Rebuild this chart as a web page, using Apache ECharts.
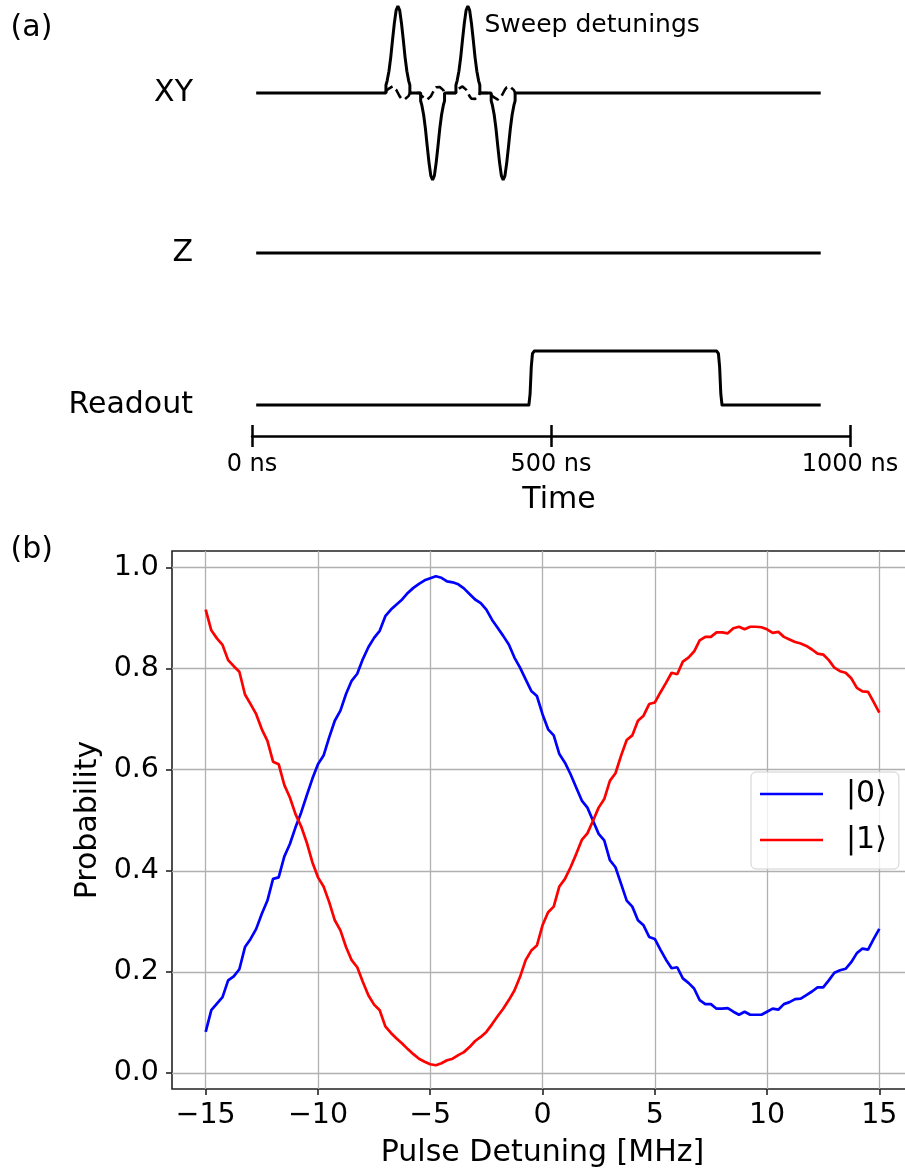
<!DOCTYPE html>
<html><head><meta charset="utf-8">
<script src="https://cdn.jsdelivr.net/npm/echarts@6/dist/echarts.min.js"></script>
<style>html,body{margin:0;padding:0;background:#fff}#c{width:905px;height:1172px}</style>
</head><body><div id="c"></div>
<script>
// ---------- Panel (b) data ----------
const detuning = [-15,-14.75,-14.5,-14.25,-14,-13.75,-13.5,-13.25,-13,-12.75,-12.5,-12.25,-12,-11.75,-11.5,-11.25,-11,-10.75,-10.5,-10.25,
 -10,-9.75,-9.5,-9.25,-9,-8.75,-8.5,-8.25,-8,-7.75,-7.5,-7.25,-7,-6.75,-6.5,-6.25,-6,-5.75,-5.5,-5.25,
 -5,-4.75,-4.5,-4.25,-4,-3.75,-3.5,-3.25,-3,-2.75,-2.5,-2.25,-2,-1.75,-1.5,-1.25,-1,-0.75,-0.5,-0.25,
 0,0.25,0.5,0.75,1,1.25,1.5,1.75,2,2.25,2.5,2.75,3,3.25,3.5,3.75,4,4.25,4.5,4.75,
 5,5.25,5.5,5.75,6,6.25,6.5,6.75,7,7.25,7.5,7.75,8,8.25,8.5,8.75,9,9.25,9.5,9.75,
 10,10.25,10.5,10.75,11,11.25,11.5,11.75,12,12.25,12.5,12.75,13,13.25,13.5,13.75,14,14.25,14.5,14.75,15];
const prob0 = [0.081,0.124,0.137,0.150,0.183,0.191,0.205,0.249,0.265,0.285,0.315,0.341,0.384,0.387,0.428,0.453,0.486,0.515,0.549,0.582,
 0.611,0.628,0.664,0.697,0.717,0.750,0.776,0.790,0.819,0.843,0.861,0.875,0.904,0.917,0.927,0.937,0.950,0.960,0.968,0.975,
 0.979,0.983,0.980,0.973,0.971,0.967,0.959,0.948,0.937,0.930,0.917,0.897,0.881,0.865,0.848,0.822,0.802,0.779,0.756,0.746,
 0.710,0.680,0.668,0.631,0.614,0.591,0.565,0.539,0.525,0.499,0.473,0.460,0.421,0.407,0.374,0.341,0.329,0.302,0.292,0.269,
 0.265,0.244,0.224,0.207,0.209,0.187,0.178,0.167,0.144,0.136,0.136,0.127,0.127,0.128,0.121,0.115,0.121,0.115,0.115,0.115,
 0.121,0.127,0.125,0.136,0.140,0.146,0.147,0.154,0.161,0.169,0.169,0.183,0.198,0.203,0.206,0.219,0.237,0.246,0.244,0.265,0.285];
const prob1 = [0.917,0.876,0.860,0.847,0.817,0.805,0.794,0.749,0.730,0.710,0.680,0.657,0.616,0.611,0.570,0.545,0.512,0.488,0.456,0.417,
 0.387,0.369,0.338,0.302,0.282,0.249,0.223,0.209,0.180,0.153,0.135,0.124,0.092,0.079,0.068,0.058,0.047,0.037,0.028,0.022,
 0.017,0.015,0.019,0.025,0.028,0.035,0.041,0.051,0.063,0.071,0.081,0.096,0.112,0.127,0.144,0.163,0.190,0.223,0.242,0.252,
 0.292,0.318,0.329,0.369,0.384,0.407,0.433,0.461,0.474,0.499,0.525,0.542,0.578,0.593,0.628,0.659,0.668,0.697,0.707,0.730,
 0.733,0.753,0.772,0.792,0.789,0.814,0.822,0.834,0.856,0.863,0.863,0.872,0.872,0.870,0.880,0.883,0.878,0.883,0.883,0.882,
 0.878,0.871,0.873,0.863,0.858,0.853,0.850,0.845,0.838,0.830,0.828,0.817,0.802,0.795,0.792,0.781,0.762,0.755,0.754,0.734,0.713];
const seriesNames = ['|0\u27E9', '|1\u27E9'];
const xTicks = [-15,-10,-5,0,5,10,15];
const yTicks = [0,0.2,0.4,0.6,0.8,1.0];

// ---------- Panel (a) schematic data ----------
const timeTicks = [0,500,1000];
const lineSpan = [7, 951];                 // ns, start/end of each channel trace
const pulseCenters = [244, 302, 361, 420]; // ns
const pulseSigns = [1, -1, 1, -1];
const pulseOffsets = [-20,-20,-18,-15,-12,-9,-6,-3,0,3,6,9,12,15,18,20,20];
const pulseShape   = [0,0.09,0.14,0.25,0.41,0.61,0.80,0.95,1,0.95,0.80,0.61,0.41,0.25,0.14,0.09,0];
const dragShape    = [0,0.023,0.033,0.051,0.068,0.075,0.066,0.039,0,-0.039,-0.066,-0.075,-0.068,-0.051,-0.033,-0.023,0];
const readoutTimes  = [7,463,465,467,469,472,777,780,782,784,786,951];
const readoutLevels = [0,0,0.2,0.7,0.95,1,1,0.95,0.7,0.2,0,0];

// build tables from the arrays
const xySolid = [[lineSpan[0],0]];
const xyDashed = [];
pulseCenters.forEach((c,i)=>{
  pulseOffsets.forEach((o,k)=>{
    xySolid.push([c+o, pulseSigns[i]*pulseShape[k]]);
    xyDashed.push([c+o, pulseSigns[i]*dragShape[k]]);
  });
});
xySolid.push([lineSpan[1],0]);
const zData = [[lineSpan[0],0],[lineSpan[1],0]];
const roData = readoutTimes.map((t,i)=>[t, readoutLevels[i]]);
const s0 = detuning.map((d,i)=>[d, prob0[i]]);
const s1 = detuning.map((d,i)=>[d, prob1[i]]);

const FONT = 'DejaVu Sans';
const LW = 3;
const minus = v => (v < 0 ? '\u2212' + Math.abs(v) : String(v));

const chart = echarts.init(document.getElementById('c'), null, {renderer:'canvas'});
const hiddenX = gi => ({gridIndex:gi, type:'value', min:0, max:1000, show:false});
chart.setOption({
  animation:false,
  backgroundColor:'#fff',
  textStyle:{fontFamily:FONT},
  grid:[
    {left:252, width:598, top:6, height:174, outerBoundsMode:'none'},
    {left:252, width:598, top:243, height:20, outerBoundsMode:'none'},
    {left:252, width:598, top:351, height:54, outerBoundsMode:'none'},
    {left:252, width:598, top:426, height:10, outerBoundsMode:'none'},
    {left:172, width:741, top:551, height:538, outerBoundsMode:'none', containLabel:false,
      show:true, borderColor:'#222', borderWidth:1.6, backgroundColor:'transparent'}
  ],
  xAxis:[
    hiddenX(0), hiddenX(1), hiddenX(2),
    {gridIndex:3, type:'value', min:0, max:1000, interval:500, position:'bottom',
      axisLine:{show:true, onZero:false, lineStyle:{color:'#000', width:2.5}},
      axisTick:{show:true, inside:false, length:11, lineStyle:{color:'#000', width:2.5}},
      axisLabel:{show:true, margin:17, fontSize:24, color:'#000', fontFamily:FONT, formatter:v=>v+' ns'},
      splitLine:{show:false}},
    {gridIndex:3, type:'value', min:0, max:1000, interval:500, position:'bottom',
      axisLine:{show:false, onZero:false},
      axisTick:{show:true, inside:true, length:11, lineStyle:{color:'#000', width:2.5}},
      axisLabel:{show:false}, splitLine:{show:false}},
    {gridIndex:4, type:'value', min:-16.5, max:16.5, position:'bottom',
      name:'Pulse Detuning [MHz]', nameLocation:'middle', nameGap:49,
      nameTextStyle:{fontSize:30, color:'#000', fontFamily:FONT},
      axisLine:{show:false, onZero:false},
      axisTick:{show:true, inside:false, length:6, customValues:xTicks, lineStyle:{color:'#222', width:1.6}},
      axisLabel:{show:true, margin:12, fontSize:28.5, color:'#000', fontFamily:FONT, customValues:xTicks, formatter:minus},
      splitLine:{show:true, lineStyle:{color:'#b0b0b0', width:1.3}}}
  ],
  yAxis:[
    {gridIndex:0, type:'value', min:-1, max:1, show:false},
    {gridIndex:1, type:'value', min:-1, max:1, show:false},
    {gridIndex:2, type:'value', min:0, max:1, show:false},
    {gridIndex:3, type:'value', min:0, max:1, show:false},
    {gridIndex:4, type:'value', min:-0.032, max:1.033, position:'left',
      name:'Probability', nameLocation:'middle', nameGap:69,
      nameTextStyle:{fontSize:30, color:'#000', fontFamily:FONT},
      axisLine:{show:false, onZero:false},
      axisTick:{show:true, inside:false, length:6, customValues:yTicks, lineStyle:{color:'#222', width:1.6}},
      axisLabel:{show:true, margin:13, fontSize:28.5, color:'#000', fontFamily:FONT, customValues:yTicks, formatter:v=>v.toFixed(1)},
      splitLine:{show:true, lineStyle:{color:'#b0b0b0', width:1.3}}}
  ],
  legend:{
    show:true,
    data:seriesNames, orient:'vertical', left:751, top:772,
    icon:'rect',
    padding:[7,12,14,9], itemGap:16, itemWidth:63, itemHeight:2.7,
    backgroundColor:'rgba(255,255,255,0.8)', borderColor:'#d0d0d0', borderWidth:1, borderRadius:5,
    textStyle:{fontSize:30, color:'#000', fontFamily:FONT, lineHeight:30, padding:[0,0,0,18]}
  },
  graphic:[
    {type:'text', x:10.6, y:28, style:{text:'(a)', font:'30px "DejaVu Sans"', fill:'#000', align:'left', verticalAlign:'middle'}},
    {type:'text', x:10.6, y:550, style:{text:'(b)', font:'30px "DejaVu Sans"', fill:'#000', align:'left', verticalAlign:'middle'}},
    {type:'text', x:193, y:93, style:{text:'XY', font:'30px "DejaVu Sans"', fill:'#000', align:'right', verticalAlign:'middle'}},
    {type:'text', x:193, y:253, style:{text:'Z', font:'30px "DejaVu Sans"', fill:'#000', align:'right', verticalAlign:'middle'}},
    {type:'text', x:193, y:405, style:{text:'Readout', font:'30px "DejaVu Sans"', fill:'#000', align:'right', verticalAlign:'middle'}},
    {type:'text', x:484.5, y:25, style:{text:'Sweep detunings', font:'25px "DejaVu Sans"', fill:'#000', align:'left', verticalAlign:'middle'}},
    {type:'text', x:559, y:500, style:{text:'Time', font:'30px "DejaVu Sans"', fill:'#000', align:'center', verticalAlign:'middle'}}
  ],
  series:[
    {type:'line', xAxisIndex:0, yAxisIndex:0, data:xyDashed, symbol:'none', clip:false, silent:true,
      lineStyle:{color:'#000', width:2.6, type:[10,4.5]}, z:2},
    {type:'line', xAxisIndex:0, yAxisIndex:0, data:xySolid, symbol:'none', clip:false, silent:true,
      lineStyle:{color:'#000', width:LW}, z:3},
    {type:'line', xAxisIndex:1, yAxisIndex:1, data:zData, symbol:'none', clip:false, silent:true,
      lineStyle:{color:'#000', width:LW}},
    {type:'line', xAxisIndex:2, yAxisIndex:2, data:roData, symbol:'none', clip:false, silent:true,
      lineStyle:{color:'#000', width:LW, join:'round'}},
    {name:seriesNames[0], type:'line', xAxisIndex:5, yAxisIndex:4, data:s0, symbol:'none',
      lineStyle:{color:'#0000ff', width:2.7}, itemStyle:{color:'#0000ff'}, z:4},
    {name:seriesNames[1], type:'line', xAxisIndex:5, yAxisIndex:4, data:s1, symbol:'none',
      lineStyle:{color:'#ff0000', width:2.7}, itemStyle:{color:'#ff0000'}, z:4}
  ]
});
</script>
</body></html>
